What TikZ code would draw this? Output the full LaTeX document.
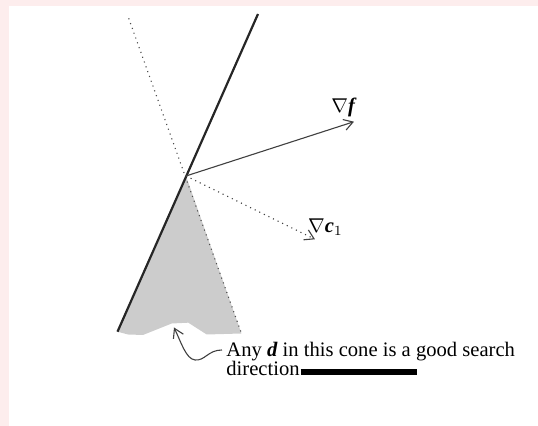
\documentclass[tikz,border=0pt]{standalone}
\usepackage{fontspec}
\setmainfont{Liberation Serif}
\usetikzlibrary{arrows.meta}
\definecolor{framepink}{RGB}{253,237,237}
\definecolor{conegray}{RGB}{204,204,204}

\begin{document}
\begin{tikzpicture}[x=0.5pt,y=-0.5pt,
    every node/.style={font=\fontsize{10.3}{9.7}\selectfont,inner sep=0pt},
    wall/.style={line width=1.1pt,black!85},
    vec/.style={line width=0.55pt,black!75,-{Straight Barb[length=4.5pt,width=5.5pt]}}]
  \useasboundingbox (0,0) rectangle (538,426);
  \fill[framepink] (0,0) rectangle (538,6.5);
  \fill[framepink] (0,0) rectangle (9,426);
  \coordinate (apex) at (186,176);
  \coordinate (wallTop) at (258,14);
  \coordinate (wallBot) at (117.5,331.7);
  \coordinate (perpTop) at (128.7,18.3);
  \coordinate (perpBot) at (241.5,333.5);
  \coordinate (gradF) at (354,121.7);
  \coordinate (gradC) at (315,239.3);
  \coordinate (coneTip) at (174,327.5);
  \fill[conegray] (apex) -- (wallBot) -- (128,334.5) -- (143,335) -- (171.7,323.5)
    -- (188.3,322.7) -- (206.7,334.5) -- (perpBot) -- cycle;
  \draw[dotted,line width=0.55pt,black!70] (perpTop) -- (perpBot);
  \draw[wall] (wallBot) -- (wallTop);
  \draw[vec] (apex) -- (gradF);
  \draw[vec,dotted] (apex) -- (gradC);
  \node (labF) at (344,107) {$\nabla$\textbf{\textit{f}}};
  \node (labC) at (325.5,227) {$\nabla$\textbf{\textit{c}}$_1$};
  \node[align=left,anchor=base west] (note) at (226,376)
    {Any \textbf{\textit{d}} in this cone is a good search\\
     direction\hspace{0.5pt}\rule[0.6pt]{58pt}{3pt}};
  \draw[vec] ([xshift=-2pt,yshift=13pt]note.base west) .. controls (208,350) and (205,361) .. (195,360)
    .. controls (186,359) and (181,342) .. (coneTip);
\end{tikzpicture}
\end{document}
